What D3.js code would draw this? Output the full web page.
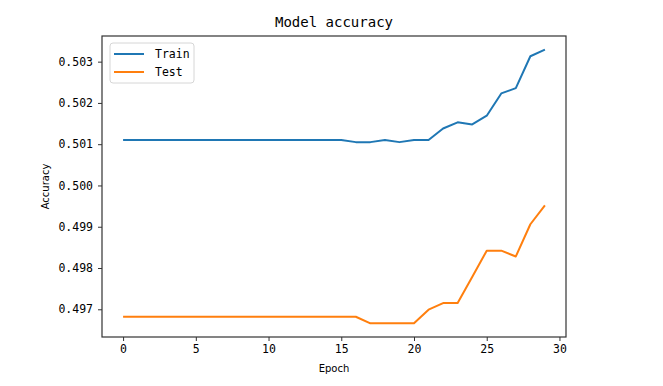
<!DOCTYPE html>
<html>
<head>
<meta charset="utf-8">
<script src="https://cdn.jsdelivr.net/npm/d3@7"></script>
<style>
  body { margin: 0; background: #fff; }
  text { fill: #000; }
</style>
</head>
<body>
<div id="chart"></div>
<script>
// values
var epochs = d3.range(0, 30);
var trainAcc = [
    0.50110, 0.50110, 0.50110, 0.50110, 0.50110, 0.50110, 0.50110, 0.50110, 0.50110, 0.50110,
    0.50110, 0.50110, 0.50110, 0.50110, 0.50110, 0.50110, 0.50105, 0.50105, 0.50110, 0.50105,
    0.50110, 0.50110, 0.50138, 0.50153, 0.50148, 0.50169, 0.50223, 0.50236, 0.50313, 0.50329
];
var testAcc = [
    0.49682, 0.49682, 0.49682, 0.49682, 0.49682, 0.49682, 0.49682, 0.49682, 0.49682, 0.49682,
    0.49682, 0.49682, 0.49682, 0.49682, 0.49682, 0.49682, 0.49682, 0.49666, 0.49666, 0.49666,
    0.49666, 0.49699, 0.49715, 0.49715, 0.49778, 0.49842, 0.49842, 0.49828, 0.49906, 0.49952
];
var seriesNames = ["Train", "Test"];
var xTicks = [0, 5, 10, 15, 20, 25, 30];
var yTicks = [0.497, 0.498, 0.499, 0.500, 0.501, 0.502, 0.503];

var width = 663, height = 386;
var plotLeft = 102, plotRight = 566, plotTop = 36, plotBottom = 337;
var colors = ["#1f77b4", "#ff7f0e"];
var monoFont = "'DejaVu Sans Mono', monospace";
var sansFont = "'DejaVu Sans', sans-serif";

var svg = d3.select("#chart")
    .append("svg")
    .attr("width", width)
    .attr("height", height);

// matplotlib style 5% margins
var allVals = trainAcc.concat(testAcc);
var yMin = d3.min(allVals), yMax = d3.max(allVals);
var yPad = (yMax - yMin) * 0.05;
var xPad = (d3.max(epochs) - d3.min(epochs)) * 0.05;

var x = d3.scaleLinear()
    .domain([d3.min(epochs) - xPad, d3.max(epochs) + xPad])
    .range([plotLeft, plotRight]);
var y = d3.scaleLinear()
    .domain([yMin - yPad, yMax + yPad])
    .range([plotBottom, plotTop]);

var line = d3.line()
    .x(function(d, i) { return x(epochs[i]); })
    .y(function(d) { return y(d); });

[trainAcc, testAcc].forEach(function(s, si) {
    svg.append("path")
        .datum(s)
        .attr("fill", "none")
        .attr("stroke", colors[si])
        .attr("stroke-width", 2)
        .attr("stroke-linejoin", "round")
        .attr("d", line);
});

// axes
var xAxis = svg.append("g")
    .attr("transform", "translate(0," + plotBottom + ")")
    .call(d3.axisBottom(x).tickValues(xTicks).tickSize(4).tickPadding(4).tickFormat(d3.format("d")));
var yAxis = svg.append("g")
    .attr("transform", "translate(" + plotLeft + ",0)")
    .call(d3.axisLeft(y).tickValues(yTicks).tickSize(4).tickPadding(5).tickFormat(d3.format(".3f")));

[xAxis, yAxis].forEach(function(g) {
    g.select(".domain").remove();
    g.selectAll(".tick line").attr("stroke", "#333");
    g.selectAll(".tick text")
        .attr("fill", "#222")
        .style("font-family", monoFont)
        .style("font-size", "11.5px");
});

// frame
svg.append("rect")
    .attr("x", plotLeft)
    .attr("y", plotTop)
    .attr("width", plotRight - plotLeft)
    .attr("height", plotBottom - plotTop)
    .attr("fill", "none")
    .attr("stroke", "#333")
    .attr("stroke-width", 1.2);

// title and labels
svg.append("text")
    .attr("x", (plotLeft + plotRight) / 2)
    .attr("y", 27)
    .attr("text-anchor", "middle")
    .style("font-family", monoFont)
    .style("font-size", "14px")
    .text("Model accuracy");

svg.append("text")
    .attr("x", (plotLeft + plotRight) / 2)
    .attr("y", 372)
    .attr("text-anchor", "middle")
    .style("font-family", sansFont)
    .style("font-size", "10px")
    .attr("fill", "#222")
    .text("Epoch");

svg.append("text")
    .attr("transform", "translate(49," + ((plotTop + plotBottom) / 2) + ") rotate(-90)")
    .attr("text-anchor", "middle")
    .style("font-family", sansFont)
    .style("font-size", "10px")
    .attr("fill", "#222")
    .text("Accuracy");

// legend
var legend = svg.append("g").attr("transform", "translate(110,43)");
legend.append("rect")
    .attr("width", 84)
    .attr("height", 40)
    .attr("rx", 3)
    .attr("fill", "#fff")
    .attr("fill-opacity", 0.8)
    .attr("stroke", "#d6d6d6");

seriesNames.forEach(function(n, i) {
    var ly = 11 + i * 18;
    legend.append("line")
        .attr("x1", 4).attr("x2", 34)
        .attr("y1", ly).attr("y2", ly)
        .attr("stroke", colors[i])
        .attr("stroke-width", 2);
    legend.append("text")
        .attr("x", 45)
        .attr("y", ly + 4)
        .style("font-family", monoFont)
        .style("font-size", "11.5px")
        .text(n);
});
</script>
</body>
</html>
